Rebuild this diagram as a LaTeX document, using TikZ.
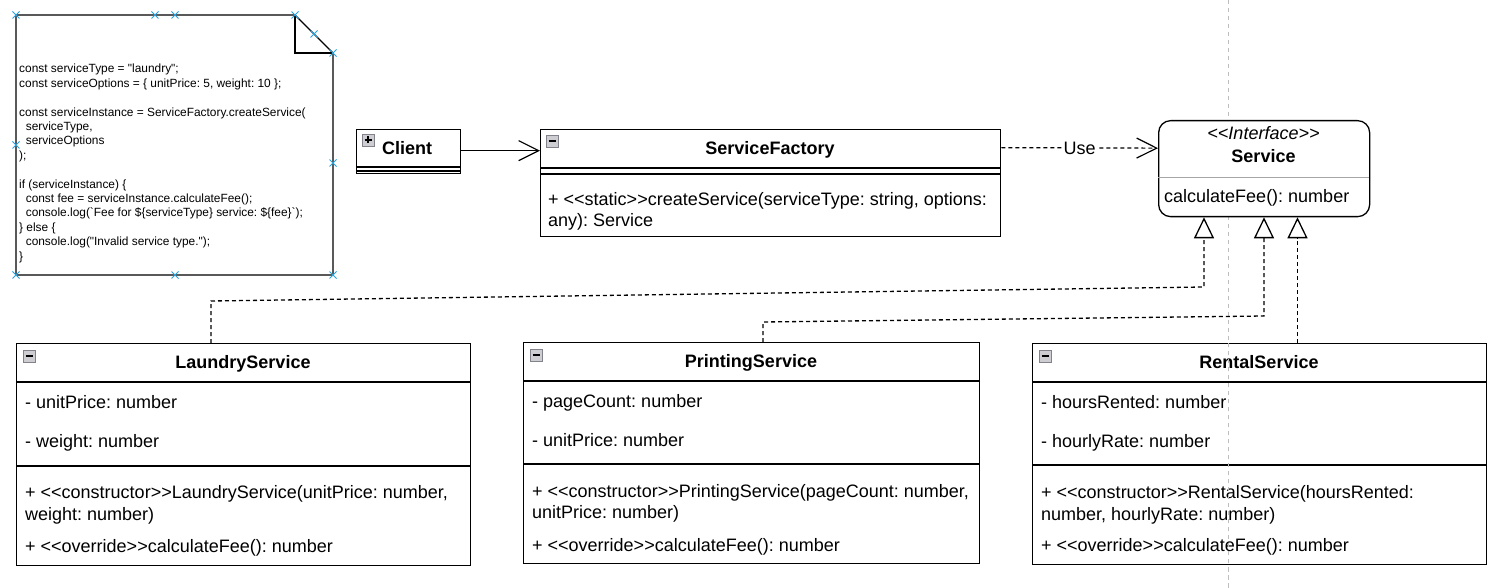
\documentclass[tikz,border=0pt]{standalone}
\usepackage{fontspec}
\setmainfont{Liberation Sans}
\newfontfamily\codefont{Liberation Sans}
\usetikzlibrary{arrows.meta}
\definecolor{handle}{RGB}{41,163,224}
\definecolor{guide}{RGB}{190,190,190}
\definecolor{iconfill}{RGB}{205,205,210}
\definecolor{iconedge}{RGB}{130,130,140}
\frenchspacing
\tikzset{
  box/.style={draw=black, line width=1.3pt, fill=white, inner sep=0pt, anchor=north west},
  sepline/.style={draw=black, line width=1.3pt},
  txt/.style={inner sep=0pt, anchor=base west, font=\fontsize{18}{21.6}\selectfont},
  ttl/.style={inner sep=0pt, anchor=base, font=\fontsize{18}{21.6}\selectfont\bfseries},
  code/.style={inner sep=0pt, anchor=north west, align=left, font=\codefont\fontsize{11.9}{14.4}\selectfont},
  real/.style={draw=black, line width=1.3pt, dash pattern=on 4pt off 3pt, -{Triangle[length=21pt,width=20pt,fill=white,line width=1.3pt]}},
  dep/.style={draw=black, line width=1.2pt, dash pattern=on 4pt off 3pt, -{Straight Barb[length=20pt,width=20pt,line width=1.2pt]}},
  assoc/.style={draw=black, line width=1.2pt, -{Straight Barb[length=20pt,width=20pt,line width=1.2pt]}},
  hmark/.style={draw=handle, line width=1pt},
  iconbox/.style={draw=iconedge, fill=iconfill, line width=0.8pt}
}
\newcommand{\minusicon}[2]{\draw[iconbox] (#1,#2) rectangle ++(12,12); \draw[line width=1.5pt] (#1+2.5,#2+6) -- (#1+9.5,#2+6);}
\newcommand{\plusicon}[2]{\draw[iconbox] (#1,#2) rectangle ++(12,12); \draw[line width=1.3pt] (#1+2.5,#2+6) -- (#1+9.5,#2+6) (#1+6,#2+2.5) -- (#1+6,#2+9.5);}
\begin{document}
\begin{tikzpicture}[x=1pt, y=-1pt]
\useasboundingbox (0,0) rectangle (1508,588);
\fill[white] (0,0) rectangle (1508,588);

% guide line
\draw[guide, line width=1pt, dash pattern=on 4pt off 4pt] (1228,0) -- (1228,588);

% note
\draw[line width=1.3pt, fill=white] (16,15) -- (295,15) -- (333,53) -- (333,275) -- (16,275) -- cycle;
\draw[line width=1.3pt] (295,15) -- (295,53) -- (333,53);
\node[code] (note) at (19,64) {const serviceType = "laundry";\\
const serviceOptions = \{ unitPrice: 5, weight: 10 \};\\[14.4pt]
const serviceInstance = ServiceFactory.createService(\\
\ \ serviceType,\\
\ \ serviceOptions\\
);\\[14.4pt]
if (serviceInstance) \{\\
\ \ const fee = serviceInstance.calculateFee();\\
\ \ console.log(`Fee for \$\{serviceType\} service: \$\{fee\}`);\\
\} else \{\\
\ \ console.log("Invalid service type.");\\
\}};
\foreach \p in {(16,15),(155,15),(175,15),(295,15),(314,34),(333,53),(16,145),(333,163),(16,275),(175,275),(333,275)}{
  \draw[hmark] \p ++(-3.5,-3.5) -- ++(7,7) \p ++(-3.5,3.5) -- ++(7,-7);
}

% Client
\node[box, minimum width=104pt, minimum height=44pt] (client) at (356,129) {};
\draw[sepline] (356,167) -- (460,167);
\draw[sepline] (356,171) -- (460,171);
\plusicon{362}{134}
\node[txt, font=\fontsize{18}{21.6}\selectfont\bfseries] (clientname) at (382,155) {Client};

% ServiceFactory
\node[box, minimum width=460pt, minimum height=107pt] (factory) at (540,129) {};
\draw[sepline] (540,168) -- (1000,168);
\draw[sepline] (540,174) -- (1000,174);
\minusicon{546}{135}
\node[ttl] (factoryname) at (770,155) {ServiceFactory};
\node[txt] (fm1) at (548,206) {+ <\mbox{}<static>\mbox{}>createService(serviceType: string, options:};
\node[txt] (fm2) at (548,227) {any): Service};

% Service interface
\node[box, rounded corners=12pt, minimum width=211pt, minimum height=96pt] (service) at (1158,120) {};
\draw[draw=gray!70, line width=1pt] (1158,177.5) -- (1369,177.5);
\node[ttl, font=\fontsize{18}{21.6}\selectfont\itshape] (stereo) at (1263.5,140) {<\mbox{}<Interface>\mbox{}>};
\node[ttl] (servicename) at (1263.5,163) {Service};
\node[txt] (sm1) at (1164,203) {calculateFee(): number};

% LaundryService
\node[box, minimum width=454pt, minimum height=222pt] (laundry) at (16,343) {};
\draw[sepline] (16,382) -- (470,382);
\draw[sepline] (16,466) -- (470,466);
\minusicon{23}{350}
\node[ttl] (laundryname) at (243,368) {LaundryService};
\node[txt] (la1) at (25,408) {- unitPrice: number};
\node[txt] (la2) at (25,447) {- weight: number};
\node[txt] (lm1) at (25,498) {+ <\mbox{}<constructor>\mbox{}>LaundryService(unitPrice: number,};
\node[txt] (lm2) at (25,520) {weight: number)};
\node[txt] (lm3) at (25,552) {+ <\mbox{}<override>\mbox{}>calculateFee(): number};

% PrintingService
\node[box, minimum width=456pt, minimum height=221pt] (printing) at (523,342) {};
\draw[sepline] (523,381) -- (979,381);
\draw[sepline] (523,464) -- (979,464);
\minusicon{530}{349}
\node[ttl] (printingname) at (751,367) {PrintingService};
\node[txt] (pa1) at (532,407) {- pageCount: number};
\node[txt] (pa2) at (532,446) {- unitPrice: number};
\node[txt] (pm1) at (532,497) {+ <\mbox{}<constructor>\mbox{}>PrintingService(pageCount: number,};
\node[txt] (pm2) at (532,518) {unitPrice: number)};
\node[txt] (pm3) at (532,551) {+ <\mbox{}<override>\mbox{}>calculateFee(): number};

% RentalService
\node[box, minimum width=454pt, minimum height=221pt] (rental) at (1032,343) {};
\draw[sepline] (1032,382) -- (1486,382);
\draw[sepline] (1032,465) -- (1486,465);
\minusicon{1039}{350}
\node[ttl] (rentalname) at (1259,368) {RentalService};
\node[txt] (ra1) at (1041,408) {- hoursRented: number};
\node[txt] (ra2) at (1041,447) {- hourlyRate: number};
\node[txt] (rm1) at (1041,498) {+ <\mbox{}<constructor>\mbox{}>RentalService(hoursRented:};
\node[txt] (rm2) at (1041,520) {number, hourlyRate: number)};
\node[txt] (rm3) at (1041,551) {+ <\mbox{}<override>\mbox{}>calculateFee(): number};

% guide line over boxes (it shows through)
\draw[guide, line width=1pt, dash pattern=on 4pt off 4pt] (1228,343) -- (1228,588);

% connectors
\draw[assoc] ([yshift=1pt]client.east) -- ([yshift=32.5pt]factory.west);
\draw[dep] ([yshift=35.5pt]factory.east) -- node[fill=white, inner sep=1pt, font=\fontsize{18}{21.6}\selectfont] (uselabel) {Use} ([yshift=20.5pt]service.west);
\draw[real] ([xshift=195pt]laundry.north west) -- ++(0,-42) -- (1204,287) -- ([xshift=46pt]service.south west);
\draw[real] ([xshift=240pt]printing.north west) -- ++(0,-20) -- (1264,316) -- ([xshift=106pt]service.south west);
\draw[real] ([xshift=265.5pt]rental.north west) -- ([xshift=139.5pt]service.south west);
\end{tikzpicture}
\end{document}
